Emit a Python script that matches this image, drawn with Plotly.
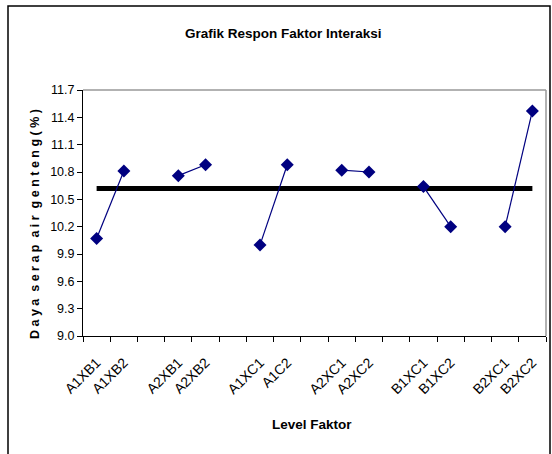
import plotly.graph_objects as go

categories = ["A1XB1", "A1XB2", " ", "A2XB1", "A2XB2", "  ", "A1XC1", "A1C2", "   ",
              "A2XC1", "A2XC2", "    ", "B1XC1", "B1XC2", "     ", "B2XC1", "B2XC2"]
response = [10.07, 10.81, None, 10.76, 10.88, None, 10.00, 10.88, None,
            10.82, 10.80, None, 10.64, 10.20, None, 10.20, 11.47]
mean_value = 10.62
y_ticks = [9.0, 9.3, 9.6, 9.9, 10.2, 10.5, 10.8, 11.1, 11.4, 11.7]

W, H = 552, 454
L, R, T, B = 83, 6, 90, 118
pw, ph = W - L - R, H - T - B

def px(x):
    return (x - L) / pw

def py(y):
    return (H - B - y) / ph

fig = go.Figure()
fig.add_trace(go.Scatter(
    x=[categories[0], categories[-1]], y=[mean_value, mean_value],
    mode="lines", line=dict(color="black", width=5), hoverinfo="skip"))
fig.add_trace(go.Scatter(
    x=categories, y=response, mode="lines+markers", connectgaps=False,
    line=dict(color="#000080", width=1.2),
    marker=dict(symbol="diamond", size=10, color="#000080")))

font = "Liberation Sans Narrow, Arial Narrow, Liberation Sans, Arial, sans-serif"
fig.update_layout(
    width=W, height=H, showlegend=False,
    margin=dict(l=L, r=R, t=T, b=B, autoexpand=False),
    paper_bgcolor="white", plot_bgcolor="white",
    font=dict(family="Liberation Sans, Arial, sans-serif", size=12, color="black"),
    xaxis=dict(type="category", categoryorder="array", categoryarray=categories,
               range=[-0.5, len(categories) - 0.5],
               tickson="boundaries", ticks="outside", ticklen=5, tickcolor="black",
               showgrid=False, tickangle=-45, tickfont=dict(size=14),
               ticklabelstandoff=12, automargin=False,
               showline=True, linecolor="black", linewidth=1, mirror=False,
               zeroline=False),
    yaxis=dict(range=[9.0, 11.7], tickvals=y_ticks,
               ticktext=[f"{v:.1f}" for v in y_ticks], automargin=False,
               ticks="outside", ticklen=5, tickcolor="black",
               showgrid=False, showline=True, linecolor="black", linewidth=1,
               zeroline=False, tickfont=dict(size=12.5, family=font)),
    shapes=[
        dict(type="line", xref="paper", yref="paper", x0=0, x1=1, y0=1, y1=1,
             line=dict(color="#999999", width=1.5)),
        dict(type="line", xref="paper", yref="paper", x0=1, x1=1, y0=0, y1=1,
             line=dict(color="#999999", width=1.5)),
        dict(type="rect", xref="paper", yref="paper",
             x0=px(8), x1=px(550), y0=py(462), y1=py(6),
             line=dict(color="black", width=1.5)),
    ],
    annotations=[
        dict(text="<b>Grafik Respon Faktor Interaksi</b>", xref="paper", yref="paper",
             x=px(283), y=py(33), xanchor="center", yanchor="middle",
             showarrow=False, font=dict(family=font, size=13.5)),
        dict(text="<b>Level Faktor</b>", xref="paper", yref="paper",
             x=px(312), y=py(424), xanchor="center", yanchor="middle",
             showarrow=False, font=dict(family=font, size=13.5)),
        dict(text="<b>D a y a  s e r a p  a i r  g e n t e n g ( % )</b>", xref="paper", yref="paper",
             x=px(35), y=py(224), xanchor="center", yanchor="middle",
             showarrow=False, textangle=-90,
             font=dict(family="Liberation Sans, Arial, sans-serif", size=12.5)),
    ],
)
fig.write_html("out.html", post_script="document.body.style.margin='0';",
               config={"displayModeBar": False})
